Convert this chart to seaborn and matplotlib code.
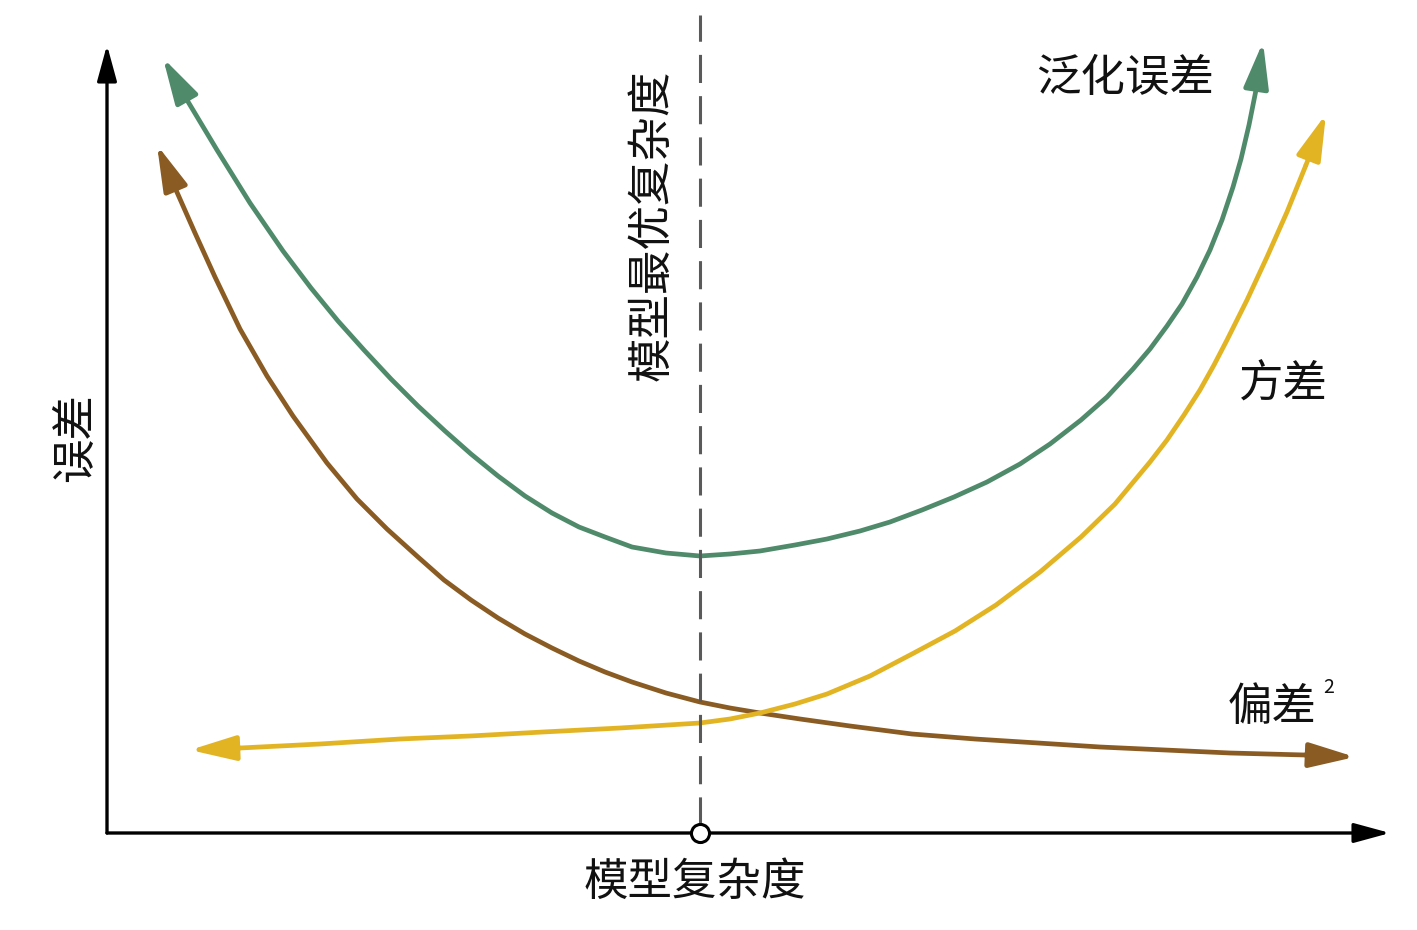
import numpy as np
import pandas as pd
import seaborn as sns
import matplotlib.pyplot as plt

# Values (x = model complexity, y = error, arbitrary units)
gen_x = [56, 80, 110, 143, 176, 204, 231, 257, 284, 311, 338, 364, 391, 418, 445, 472, 498, 525, 559, 593,
         623, 653, 688, 720, 753, 783, 815, 847, 880, 913, 943, 974, 1000, 1026, 1043, 1060, 1075, 1090, 1103, 1115,
         1126, 1134, 1142, 1149, 1156]
gen_y = [775, 733, 683, 630, 582, 545, 512, 483, 454, 427, 402, 379, 357, 337, 320, 306, 296, 286, 280, 277,
         279, 282, 288, 294, 302, 311, 323, 336, 351, 369, 389, 413, 436, 464, 484, 507, 529, 556, 583, 613,
         646, 674, 708, 743, 791]

bias_x = [50, 69, 88, 108, 133, 160, 186, 220, 250, 280, 311, 337, 364, 391, 418, 445, 472, 498, 525, 559,
          593, 623, 653, 693, 743, 805, 868, 931, 993, 1058, 1123, 1198, 1248]
bias_y = [688, 643, 600, 556, 504, 457, 417, 370, 334, 304, 276, 253, 233, 215, 199, 185, 172, 161, 151, 140,
          131, 125, 120, 114, 107, 99, 94, 90, 86, 83, 80, 78, 76]

var_x = [83, 133, 213, 293, 363, 436, 513, 593, 623, 653, 688, 720, 763, 805, 848, 889, 933, 974, 1008, 1043,
         1060, 1077, 1093, 1107, 1120, 1140, 1160, 1180, 1199, 1219]
var_y = [83, 85, 89, 94, 97, 101, 105, 110, 114, 120, 129, 139, 157, 179, 202, 228, 261, 296, 329, 371,
         393, 418, 443, 468, 493, 533, 576, 621, 668, 719]

optimum_x = 593
x_axis_end = 1283
y_axis_end = 788

labels = {'gen': '泛化误差', 'var': '方差', 'bias': '偏差'}
colors = {'gen': '#4f8a6b', 'bias': '#8a5c24', 'var': '#e2b424'}

sns.set_theme(style="white")
plt.rcParams['font.family'] = ['Noto Sans CJK SC', 'DejaVu Sans']

fig = plt.figure(figsize=(14.17, 9.30), dpi=100)
ax = fig.add_axes([0, 0, 1, 1])
ax.set_xlim(-107, 1310)
ax.set_ylim(-97, 833)
ax.axis('off')

curves = {'gen': (gen_x, gen_y), 'bias': (bias_x, bias_y), 'var': (var_x, var_y)}


def draw_curve(key):
    xs, ys = curves[key]
    df = pd.DataFrame({'x': xs, 'y': ys})
    # body of the curve; both ends get an arrowhead drawn separately
    body = df.iloc[1:len(df) - 1]
    sns.lineplot(data=body, x='x', y='y', sort=False, estimator=None,
                 color=colors[key], lw=3.4, ax=ax)
    ax.lines[-1].set_solid_capstyle('butt')
    ax.lines[-1].set_solid_joinstyle('round')
    for tip, base in [(len(df) - 1, len(df) - 2), (0, 1)]:
        ax.annotate('', xy=(xs[tip], ys[tip]), xytext=(xs[base], ys[base]),
                    arrowprops=dict(arrowstyle='-|>,head_length=1.4,head_width=0.38',
                                    mutation_scale=20, color=colors[key], lw=3.4,
                                    shrinkA=0, shrinkB=0))


draw_curve('gen')
draw_curve('bias')
draw_curve('var')

# axes with arrows
axis_arrow = dict(arrowstyle='-|>,head_length=1.1,head_width=0.3', mutation_scale=20,
                  color='black', lw=2.4, shrinkA=0, shrinkB=0)
ax.annotate('', xy=(0, y_axis_end), xytext=(0, 0), arrowprops=axis_arrow)
ax.annotate('', xy=(x_axis_end, 0), xytext=(0, 0), arrowprops=axis_arrow)

# optimum complexity line
ax.plot([optimum_x, optimum_x], [8, 818], color='#5a5a5a', lw=2.2, dashes=(9.2, 4.3))
ax.plot([optimum_x], [0], 'o', ms=13, mfc='white', mec='black', mew=2.2, zorder=5)

fs = 32
ax.text(1018, 755, labels['gen'], fontsize=fs, ha='center', va='center', color='#111111')
ax.text(1176, 448, labels['var'], fontsize=fs, ha='center', va='center', color='#111111')
ax.text(1165, 126, labels['bias'], fontsize=fs, ha='center', va='center', color='#111111')
ax.text(1222, 146, '2', fontsize=14, ha='center', va='center', color='#111111')
ax.text(588, -49, '模型复杂度', fontsize=fs, ha='center', va='center', color='#111111')
ax.text(-32, 396, '误差', fontsize=fs, rotation=90, ha='center', va='center', color='#111111')
ax.text(545, 608, '模型最优复杂度', fontsize=fs, rotation=90, ha='center', va='center',
        color='#111111')

fig.savefig('out.png', dpi=100)
